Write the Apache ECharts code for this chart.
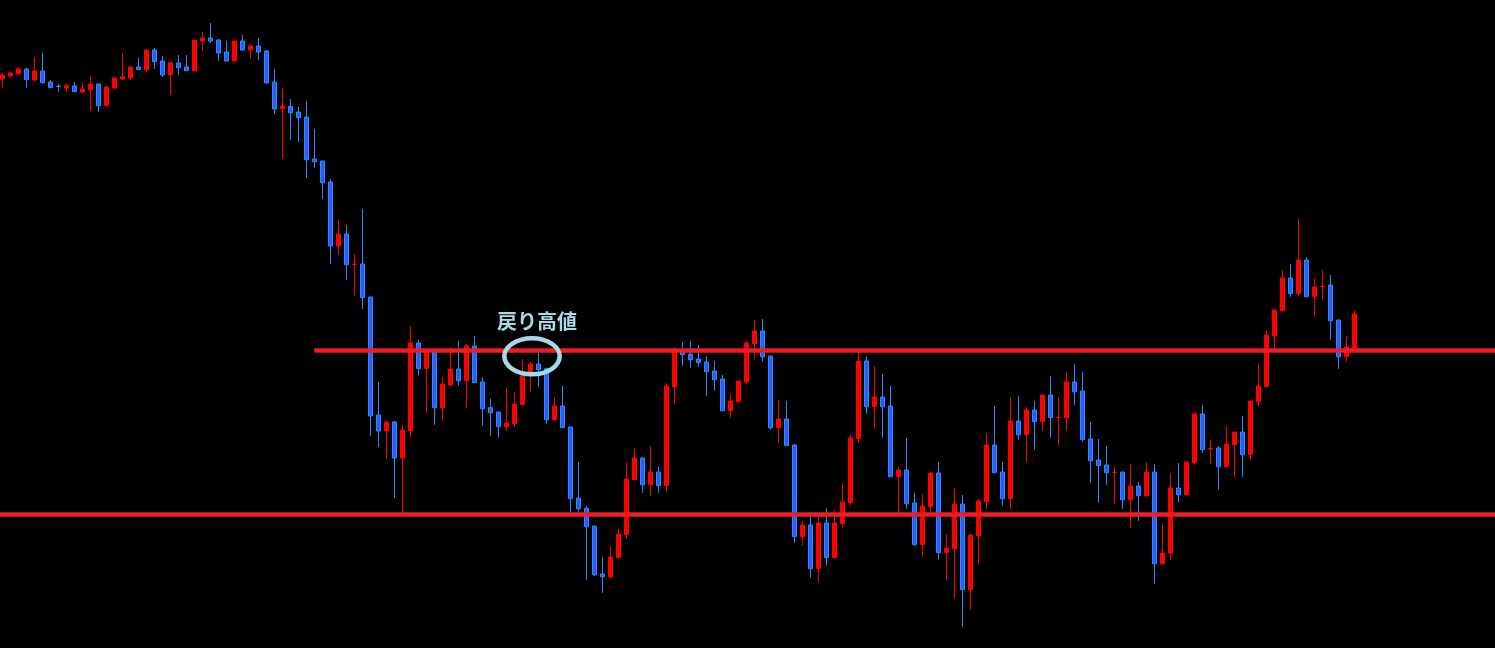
<!DOCTYPE html>
<html>
<head>
<meta charset="utf-8">
<script src="https://cdn.jsdelivr.net/npm/echarts@6/dist/echarts.min.js"></script>
<style>
html,body{margin:0;padding:0;background:#000;}
#chart{width:1495px;height:648px;}
</style>
</head>
<body>
<div id="chart"></div>
<script>
// OHLC prices (170 candles)
const opens = [149.21,149.24,149.26,149.31,149.20,149.29,149.18,149.138,149.12,149.14,149.08,149.10,149.16,148.943,149.12,149.21,149.22,149.33,149.30,149.50,149.39,149.25,149.37,149.33,149.29,149.59,149.62,149.60,149.48,149.39,149.59,149.50,149.54,149.49,149.18,148.913,148.937,148.88,148.83,148.41,148.39,148.18,147.54,147.66,147.355,147.36,147.03,145.85,145.69,145.78,145.42,145.69,146.57,146.313,146.48,145.923,146.15,146.31,146.193,146.54,146.18,145.923,145.88,145.733,145.763,145.953,146.283,146.36,146.313,145.803,145.94,145.73,145.02,144.917,144.74,144.26,144.23,144.423,144.653,145.203,145.42,145.153,145.28,145.143,146.13,146.495,146.46,146.41,146.38,146.29,146.21,145.893,145.983,146.18,146.563,146.69,146.44,145.723,145.81,145.55,144.633,144.75,144.313,144.77,144.423,144.763,144.973,145.613,146.39,145.933,146.03,145.94,145.233,145.30,144.97,144.553,144.933,145.27,144.473,144.513,144.96,144.103,144.643,144.983,145.55,145.28,145.013,145.79,145.653,145.90,145.783,146.05,145.825,145.823,146.18,146.09,145.61,145.40,145.35,145.275,145.28,145.003,145.14,145.043,145.28,144.363,144.47,145.12,145.053,145.373,145.86,145.51,145.52,145.333,145.553,145.68,145.453,145.983,146.133,146.643,146.893,147.22,147.063,147.40,147.033,147.135,147.15,146.80,146.433,146.517];
const closes = [149.25,149.27,149.31,149.203,149.29,149.173,149.123,149.135,149.143,149.083,149.11,149.16,148.943,149.13,149.22,149.233,149.33,149.303,149.50,149.383,149.25,149.373,149.323,149.293,149.60,149.62,149.59,149.47,149.39,149.59,149.50,149.54,149.48,149.17,148.91,148.94,148.873,148.823,148.403,148.383,148.173,147.54,147.66,147.353,147.36,147.023,145.84,145.69,145.78,145.42,145.70,146.57,146.313,146.49,145.923,146.16,146.31,146.193,146.54,146.173,145.913,145.873,145.733,145.77,145.96,146.24,146.36,146.303,145.803,145.94,145.723,145.013,144.913,144.733,144.253,144.233,144.43,144.66,145.21,145.42,145.153,145.28,145.143,146.14,146.50,146.453,146.403,146.373,146.283,146.203,145.893,145.99,146.19,146.57,146.69,146.433,145.723,145.81,145.543,144.633,144.75,144.313,144.77,144.423,144.77,144.98,145.62,146.39,145.933,146.03,145.933,145.233,145.30,144.963,144.553,144.94,145.27,144.473,144.52,144.96,144.103,144.65,144.99,145.55,145.273,145.013,145.79,145.653,145.90,145.783,146.05,145.823,145.828,146.18,146.083,145.603,145.393,145.343,145.273,145.278,145.003,145.14,145.043,145.28,144.363,144.47,145.12,145.053,145.38,145.86,145.503,145.513,145.333,145.56,145.68,145.453,145.99,146.14,146.65,146.90,147.22,147.063,147.40,147.033,147.13,147.138,146.793,146.433,146.53,146.86];
const lows = [149.117,149.233,149.26,149.123,149.183,149.163,149.123,149.083,149.083,149.083,149.07,148.89,148.883,148.943,149.103,149.20,149.20,149.303,149.28,149.31,149.23,149.05,149.25,149.293,149.29,149.49,149.57,149.39,149.39,149.39,149.49,149.41,149.40,149.17,148.86,148.41,148.60,148.58,148.22,148.323,148.01,147.36,147.45,147.20,147.04,146.91,145.64,145.53,145.41,145.02,144.87,145.623,146.243,145.873,145.753,145.793,146.143,146.143,145.913,146.173,145.743,145.643,145.623,145.693,145.733,145.953,146.083,146.133,145.763,145.793,145.723,144.88,144.883,144.20,144.24,144.073,144.213,144.423,144.613,145.203,145.073,145.043,145.073,145.083,145.963,146.343,146.323,146.333,146.043,146.093,145.893,145.823,145.983,146.163,146.41,146.383,145.703,145.573,145.543,144.573,144.543,144.223,144.173,144.343,144.423,144.723,144.943,145.573,145.863,145.723,145.623,145.233,144.86,144.913,144.543,144.433,144.873,144.403,144.203,144.013,143.733,143.903,144.363,144.903,145.273,144.943,144.903,145.603,145.373,145.503,145.693,145.623,145.543,145.693,145.953,145.583,145.173,144.973,145.153,144.963,144.913,144.723,144.793,145.023,144.163,144.363,144.40,144.98,145.053,145.353,145.473,145.363,145.103,145.323,145.233,145.233,145.403,145.933,146.133,146.523,146.883,147.033,147.043,147.033,146.843,147.003,146.603,146.313,146.383,146.517];
const highs = [149.267,149.283,149.323,149.323,149.43,149.47,149.20,149.163,149.163,149.18,149.17,149.24,149.16,149.13,149.22,149.47,149.33,149.423,149.50,149.52,149.44,149.373,149.45,149.45,149.60,149.68,149.77,149.61,149.59,149.59,149.65,149.56,149.62,149.50,149.31,149.12,149.01,148.93,148.99,148.71,148.39,148.21,147.80,147.75,147.46,147.91,147.03,146.18,145.78,145.79,145.75,146.74,146.60,146.49,146.48,146.23,146.53,146.59,146.56,146.64,146.23,146.013,145.88,146.12,146.08,146.41,146.38,146.47,146.323,146.03,146.14,145.73,145.38,144.94,144.74,144.43,144.54,144.71,145.38,145.52,145.43,145.54,145.33,146.17,146.53,146.58,146.59,146.55,146.44,146.39,146.25,146.06,146.19,146.59,146.80,146.81,146.44,146.00,145.99,145.56,144.79,144.83,144.83,144.92,144.90,145.16,145.65,146.48,146.44,146.34,146.26,146.14,145.33,145.62,145.07,145.06,145.28,145.38,144.66,145.12,145.05,144.65,145.01,145.67,145.94,145.38,146.03,146.04,145.93,145.99,146.05,146.24,146.03,146.28,146.36,146.28,145.78,145.61,145.54,145.33,145.28,145.36,145.18,145.38,145.36,144.76,145.27,145.37,145.38,145.88,145.95,145.60,145.54,145.74,145.68,145.84,145.99,146.36,146.69,146.90,147.30,147.36,147.81,147.43,147.22,147.30,147.25,146.80,146.64,146.90];

// horizontal levels and annotation
const resistanceLevel = 146.495;
const supportLevel = 144.857;
const resistanceStartIndex = 39;
const annotationText = '戻り高値';
const slotCount = 188;
const categories = Array.from({length: slotCount}, (_, i) => String(i + 1));

const ohlc = opens.map((o, i) => [o, closes[i], lows[i], highs[i]]);

const chart = echarts.init(document.getElementById('chart'), null, {renderer: 'canvas'});
chart.setOption({
  backgroundColor: '#000000',
  animation: false,
  grid: {left: -1.7, top: 0, width: slotCount * 8, height: 648, containLabel: false, outerBoundsMode: 'none'},
  xAxis: {
    type: 'category', data: categories, boundaryGap: true,
    axisLine: {show: false}, axisTick: {show: false}, axisLabel: {show: false}, splitLine: {show: false}
  },
  yAxis: {
    type: 'value', min: 143.52, max: 150, scale: true,
    axisLine: {show: false}, axisTick: {show: false}, axisLabel: {show: false}, splitLine: {show: false}
  },
  series: [{
    type: 'candlestick',
    data: ohlc,
    barWidth: 4,
    itemStyle: {
      color: '#ff0000', color0: '#3158ff',
      borderColor: '#ff0000', borderColor0: '#1e90ff', borderWidth: 1
    },
    markLine: {
      silent: true, symbol: ['none', 'none'], animation: false,
      label: {show: false},
      lineStyle: {color: '#ee1d25', width: 4.6, type: 'solid', cap: 'butt'},
      emphasis: {disabled: true},
      data: [
        [{xAxis: resistanceStartIndex, yAxis: resistanceLevel}, {xAxis: slotCount - 1, yAxis: resistanceLevel}],
        {yAxis: supportLevel}
      ]
    },
    z: 2
  }],
  graphic: [
    {type: 'ellipse', shape: {cx: 532, cy: 356.3, rx: 27.7, ry: 18}, style: {fill: 'none', stroke: '#a4dbe8', lineWidth: 4.5}, z: 100},
    {type: 'text', x: 537, y: 321.5, style: {text: annotationText, fill: '#a8dbe6', font: 'bold 20px "Noto Sans CJK JP", sans-serif', textAlign: 'center', textVerticalAlign: 'middle'}, z: 100}
  ]
});
</script>
</body>
</html>
